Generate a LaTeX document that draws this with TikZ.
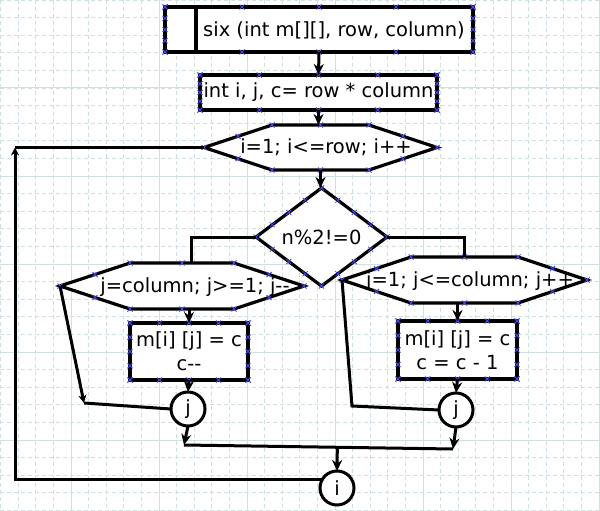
\documentclass[tikz,border=0pt]{standalone}
\usepackage{fontspec}
\newfontfamily\dv{DejaVu Sans}
\usetikzlibrary{arrows.meta, calc, shapes.geometric}
\definecolor{gridc}{RGB}{208,224,221}
\definecolor{cpblue}{RGB}{70,70,235}

\tikzset{
    cp/.style={draw=cpblue, line width=0.8pt},
    pics/cpx/.style={code={\draw[cp] (-2.5,-2.5) -- (2.5,2.5) (-2.5,2.5) -- (2.5,-2.5);}},
    minorgrid/.style={gridc, line width=0.9pt, dash pattern=on 4pt off 3pt},
    majorgrid/.style={gridc, line width=1pt},
    shapeline/.style={line width=3.2pt, line join=miter, fill=white},
    txt/.style={font=\dv\fontsize{19.5}{24}\selectfont, inner sep=0pt},
    procbox/.style={draw, rectangle, line width=3.2pt, fill=white, inner sep=0pt, outer sep=0pt,
        align=center, font=\dv\fontsize{19.5}{24}\selectfont},
    hexnode/.style={rectangle, inner sep=0pt, outer sep=0pt},
    decision/.style={draw, diamond, aspect=1.34, line width=3.2pt, fill=white, inner sep=0pt,
        outer sep=0pt, font=\dv\fontsize{19.5}{24}\selectfont},
    conn/.style={draw, circle, minimum size=34pt, line width=3pt, fill=white, inner sep=0pt,
        outer sep=0pt, font=\dv\fontsize{19.5}{24}\selectfont},
    line/.style={line width=3pt},
    flow/.style={line width=3pt, -{Stealth[length=11pt,width=10pt]}},
    smallflow/.style={line width=3pt, -{Stealth[length=8pt,width=8pt]}}
}

% connection points of a box
\newcommand{\boxpts}[1]{%
    \foreach \f in {0,0.25,0.5,0.75,1} {
        \pic at ($(#1.north west)!\f!(#1.north east)$) {cpx};
        \pic at ($(#1.south west)!\f!(#1.south east)$) {cpx};
        \pic at ($(#1.north west)!\f!(#1.south west)$) {cpx};
        \pic at ($(#1.north east)!\f!(#1.south east)$) {cpx};
    }}
% hexagon outline round a node, #2 = slant
\newcommand{\hexa}[2]{%
    \coordinate (#1-a) at ([xshift=#2pt]#1.north west);
    \coordinate (#1-b) at ([xshift=-#2pt]#1.north east);
    \coordinate (#1-c) at ([xshift=-#2pt]#1.south east);
    \coordinate (#1-d) at ([xshift=#2pt]#1.south west);
    \draw[shapeline] (#1.west) -- (#1-a) -- (#1-b) -- (#1.east) -- (#1-c) -- (#1-d) -- cycle;
    \foreach \p in {#1.west,#1-a,#1.north,#1-b,#1.east,#1-c,#1.south,#1-d} {\pic at (\p) {cpx};}
    \foreach \u/\v in {#1.west/#1-a, #1-b/#1.east, #1.east/#1-c, #1-d/#1.west} {
        \pic at ($(\u)!.5!(\v)$) {cpx};
    }}
% connection points of a diamond
\newcommand{\diapts}[1]{%
    \foreach \u/\v in {north/east, east/south, south/west, west/north} {
        \foreach \f in {0,0.25,0.5,0.75} {\pic at ($(#1.\u)!\f!(#1.\v)$) {cpx};}
    }}

\begin{document}
\begin{tikzpicture}[x=1pt, y=-1pt]
    \path[use as bounding box] (0,0) rectangle (600,511);
    \fill[white] (0,0) rectangle (600,511);
    % grid
    \foreach \k in {0,...,34} \draw[minorgrid] (0.6+17.6*\k,0) -- (0.6+17.6*\k,511);
    \foreach \k in {0,...,29} \draw[minorgrid] (0,17.6*\k) -- (600,17.6*\k);
    \foreach \k in {0,...,6} \draw[majorgrid] (71+88*\k,0) -- (71+88*\k,511);
    \foreach \k in {0,...,5} \draw[majorgrid] (0,88*\k) -- (600,88*\k);

    % shapes
    \node[procbox, minimum width=308, minimum height=45] (sub) at (319,29.5) {};
    \draw[line width=3.2pt] ([xshift=31pt]sub.north west) -- ([xshift=31pt]sub.south west);
    \node[txt] (sub-t) at (334,30) {six (int m[][], row, column)};
    \boxpts{sub}

    \node[procbox, minimum width=237, minimum height=35] (init) at (318.5,92.5) {int i, j, c= row * column};
    \boxpts{init}

    \node[hexnode, minimum width=233, minimum height=45] (loopi) at (320.5,147.5) {};
    \hexa{loopi}{68}
    \node[txt] (loopi-t) at (326,147) {i=1; i<=row; i++};

    \node[decision, minimum width=131, minimum height=98] (cond) at (321.5,237) {n\%2!=0};
    \diapts{cond}

    \node[hexnode, minimum width=244, minimum height=46] (jdown) at (182,286) {};
    \hexa{jdown}{70}
    \node[txt] (jdown-t) at (195,287) {j=column; j>=1; j--};

    \node[hexnode, minimum width=245, minimum height=46] (jup) at (464.5,280) {};
    \hexa{jup}{69}
    \node[txt] (jup-t) at (470,281) {j=1; j<=column; j++};

    \node[procbox, minimum width=118, minimum height=57] (body1) at (189,351.5) {m[i] [j] = c\\c--};
    \boxpts{body1}
    \node[procbox, minimum width=119, minimum height=58] (body2) at (457.5,350) {m[i] [j] = c\\c = c - 1};
    \boxpts{body2}

    \node[conn] (jl) at (188,409) {j};
    \node[conn] (jr) at (456,410) {j};
    \node[conn] (iend) at (337,488) {i};

    \coordinate (tl) at (15,147.5);
    \coordinate (lc) at (84,403);
    \coordinate (rc) at (352,406);
    \coordinate (jl-in) at (184,445);
    \coordinate (jr-in) at (453,449);
    \coordinate (merge) at ($(jl-in)!0.57!(jr-in)$);

    % connectors
    \draw[flow] (sub.south) -- (init.north);
    \draw[flow] (init.south) -- (init.south |- loopi.north);
    \draw[flow] (loopi.south) -- (loopi.south |- cond.north);
    \draw[line] (cond.west) -| ([xshift=9pt]jdown.north);
    \draw[line] (cond.east) -| (jup.north);
    \draw[flow] (jdown.south -| body1.north) -- (body1.north);
    \draw[flow] (jup.south -| body2.north) -- (body2.north);
    \draw[flow] (body1.south) -- (jl.north);
    \draw[flow] (body2.south) -- (jr.north);
    \draw[smallflow] (jdown.west) -- (lc);
    \draw[line] (lc) -- (jl.west);
    \draw[line] (jup.west) -- (rc) -- (jr.west);
    \draw[flow] (jl.south) -- (jl-in);
    \draw[flow] (jr.south) -- (jr-in);
    \draw[line] (jl-in) -- (jr-in);
    \draw[flow] (merge) -- (iend.north);
    \draw[smallflow] (iend.150) -| (tl);
    \draw[line] (tl) -- (loopi.west);
\end{tikzpicture}
\end{document}
